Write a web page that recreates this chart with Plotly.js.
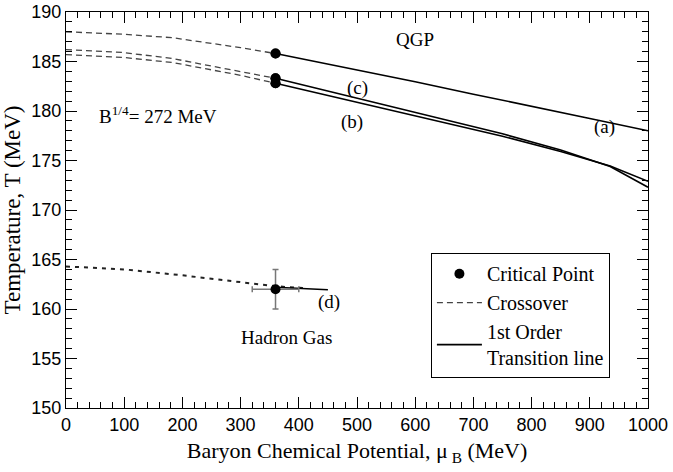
<!DOCTYPE html>
<html>
<head>
<meta charset="utf-8">
<script src="https://cdn.plot.ly/plotly-3.0.1.min.js"></script>
<style>html,body{margin:0;padding:0;background:#fff;}#chart{width:673px;height:472px;}</style>
</head>
<body>
<div id="chart"></div>
<script>
// Crossover (dashed) curves
const muCross = [0, 100, 183, 300, 360];
const TcrossA = [188.0, 187.75, 187.4, 186.4, 185.8];
const TcrossC = [186.2, 185.9, 185.3, 184.0, 183.3];
const TcrossB = [185.7, 185.4, 184.9, 183.6, 182.8];

// First-order transition lines
const muA = [360, 500, 600, 700, 800, 900, 1000];
const TA = [185.8, 184.15, 182.95, 181.7, 180.5, 179.25, 178.0];
const muBC = [360, 450, 550, 650, 750, 850, 935, 1000];
const TC = [183.3, 182.0, 180.6, 179.15, 177.7, 176.05, 174.4, 172.3];
const TB = [182.8, 181.55, 180.2, 178.8, 177.45, 175.9, 174.45, 172.9];

// Case (d)
const muDcross = [0, 100, 200, 300, 360, 410];
const TDcross = [164.3, 164.0, 163.4, 162.75, 162.3, 162.1];
const muDline = [360, 450];
const TDline = [162.2, 161.95];

// Critical points
const muCP = [360, 360, 360];
const TCP = [185.8, 183.3, 182.8];
const muCPd = [360];
const TCPd = [162.0];
const errMuD = [40];
const errTD = [2];

const serif = "'Liberation Serif', 'Times New Roman', 'DejaVu Serif', serif";
const sans = "'Liberation Sans', Arial, sans-serif";
const dashStyle = "6px,4px";

const traces = [
  {x: muCP, y: TCP, mode: 'markers', name: 'Critical Point',
   marker: {color: '#000', size: 10}, showlegend: true},
  {x: muCross, y: TcrossA, mode: 'lines', name: 'Crossover',
   line: {color: '#444', width: 1.3, dash: dashStyle}, showlegend: true},
  {x: muA, y: TA, mode: 'lines', name: '1st Order<br>Transition line',
   line: {color: '#000', width: 1.6}, showlegend: true},
  {x: muCross, y: TcrossC, mode: 'lines', line: {color: '#444', width: 1.3, dash: dashStyle}, showlegend: false},
  {x: muCross, y: TcrossB, mode: 'lines', line: {color: '#444', width: 1.3, dash: dashStyle}, showlegend: false},
  {x: muBC, y: TC, mode: 'lines', line: {color: '#000', width: 1.6}, showlegend: false},
  {x: muBC, y: TB, mode: 'lines', line: {color: '#000', width: 1.6}, showlegend: false},
  {x: muDcross, y: TDcross, mode: 'lines', line: {color: '#222', width: 2, dash: '4px,5px'}, showlegend: false},
  {x: muDline, y: TDline, mode: 'lines', line: {color: '#000', width: 1.4}, showlegend: false},
  {x: muCPd, y: TCPd, mode: 'markers', marker: {color: '#000', size: 10}, showlegend: false,
   error_x: {type: 'data', array: errMuD, color: '#777', thickness: 1.5, width: 3},
   error_y: {type: 'data', array: errTD, color: '#777', thickness: 1.5, width: 3}},
  {x: muCP, y: TCP, mode: 'markers', marker: {color: '#000', size: 10}, showlegend: false}
];

const annFont = {family: serif, size: 19, color: '#000'};
const layout = {
  width: 673, height: 472,
  margin: {l: 66, r: 25, t: 12, b: 64},
  paper_bgcolor: '#fff', plot_bgcolor: '#fff',
  showlegend: true,
  legend: {x: 0.627, y: 0.391, xanchor: 'left', yanchor: 'top',
    bgcolor: '#fff', bordercolor: '#000', borderwidth: 1, itemwidth: 45,
    font: {family: serif, size: 20, color: '#000'}, traceorder: 'normal', tracegroupgap: 0},
  xaxis: {
    range: [0, 1000], dtick: 100, tick0: 0,
    ticks: 'inside', ticklen: 11, tickwidth: 1, tickcolor: '#000',
    minor: {dtick: 20, ticks: 'inside', ticklen: 6, tickcolor: '#000', tickwidth: 1},
    showline: true, linecolor: '#000', linewidth: 1, mirror: 'ticks',
    showgrid: false, zeroline: false,
    tickfont: {family: sans, size: 18, color: '#000'},
    title: {text: 'Baryon Chemical Potential, μ<sub> B</sub> (MeV)', font: {family: serif, size: 22, color: '#000'}, standoff: 9}
  },
  yaxis: {
    range: [150, 190], dtick: 5, tick0: 150,
    ticks: 'inside', ticklen: 11, tickwidth: 1, tickcolor: '#000',
    minor: {dtick: 1, ticks: 'inside', ticklen: 6, tickcolor: '#000', tickwidth: 1},
    showline: true, linecolor: '#000', linewidth: 1, mirror: 'ticks',
    showgrid: false, zeroline: false,
    tickfont: {family: sans, size: 18, color: '#000'},
    title: {text: 'Temperature, T (MeV)', font: {family: serif, size: 23, color: '#000'}, standoff: 5}
  },
  annotations: [
    {x: 600, y: 187.2, text: 'QGP', showarrow: false, font: annFont},
    {x: 926, y: 178.4, text: '(a)', showarrow: false, font: annFont},
    {x: 500, y: 182.3, text: '(c)', showarrow: false, font: annFont},
    {x: 491, y: 178.9, text: '(b)', showarrow: false, font: annFont},
    {x: 53, y: 179.6, xanchor: 'left', text: 'B<sup>1/4</sup>= 272 MeV', showarrow: false, font: annFont},
    {x: 452, y: 160.7, text: '(d)', showarrow: false, font: annFont},
    {x: 378, y: 157.1, text: 'Hadron Gas', showarrow: false, font: annFont}
  ]
};

Plotly.newPlot('chart', traces, layout, {staticPlot: true, displayModeBar: false});
</script>
</body>
</html>
